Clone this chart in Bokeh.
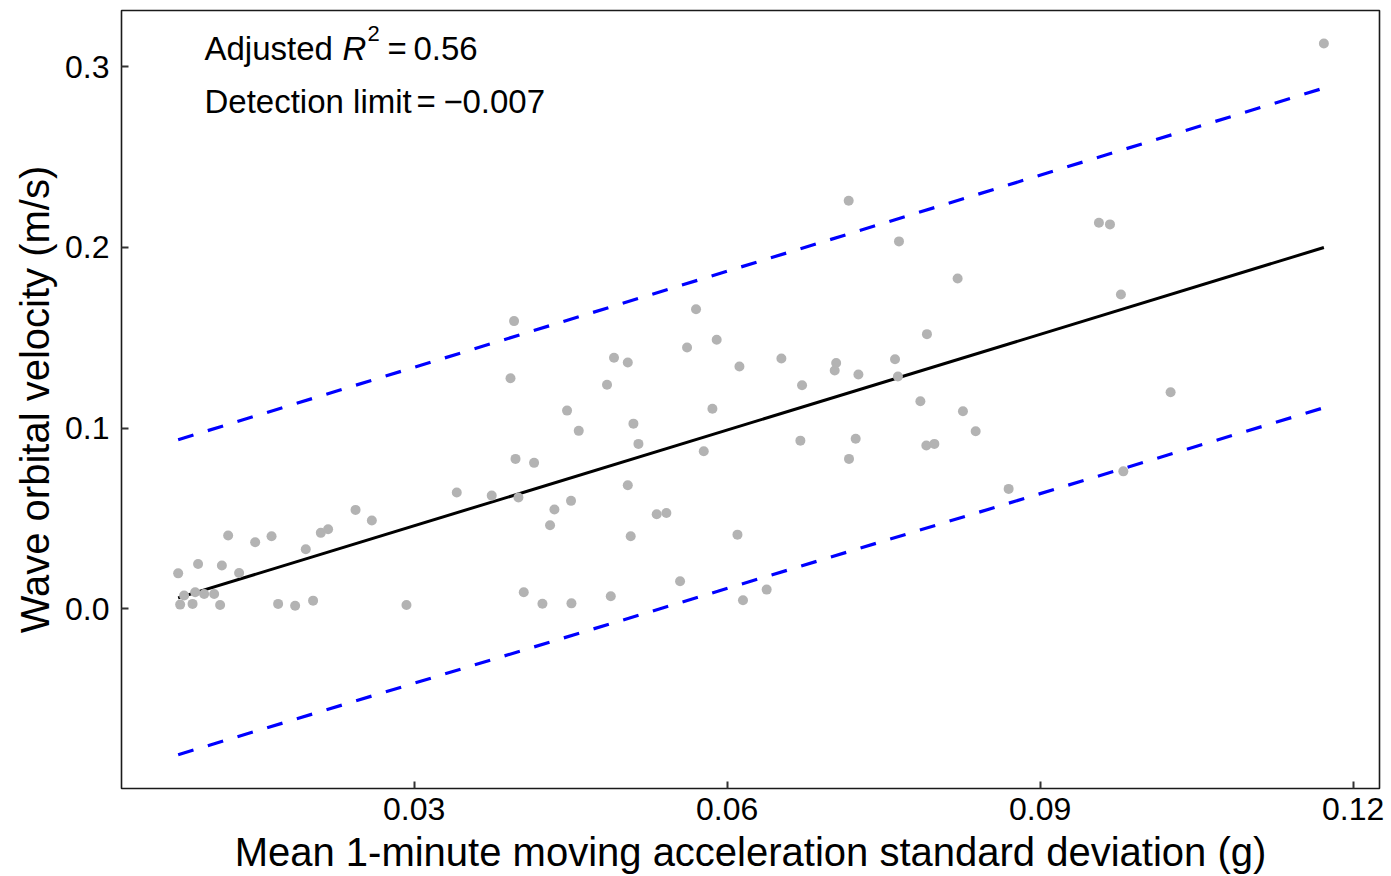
from bokeh.plotting import figure
from bokeh.models import Range1d, FixedTicker, Label, NumeralTickFormatter
from bokeh.embed import file_html
from bokeh.resources import INLINE

# ---- data ----
accel_sd = [0.00739, 0.00930, 0.01158, 0.01323, 0.00758, 0.00796, 0.00877, 0.00902,
            0.00988, 0.01084, 0.01141, 0.01218, 0.01477, 0.01634, 0.01697, 0.01860,
            0.01962, 0.02032, 0.02106, 0.02176, 0.02439, 0.02595, 0.02927, 0.03409,
            0.03744, 0.03924, 0.03958, 0.03972, 0.04000, 0.04051, 0.04150, 0.04230,
            0.04303, 0.04345, 0.04466, 0.04504, 0.04508, 0.04578, 0.04849, 0.04885,
            0.04916, 0.05048, 0.05048, 0.05076, 0.05102, 0.05150, 0.05325, 0.05418,
            0.05549, 0.05616, 0.05702, 0.05776, 0.05859, 0.05900, 0.06099, 0.06118,
            0.06152, 0.06379, 0.06520, 0.06702, 0.06718, 0.07031, 0.07045, 0.07165,
            0.07168, 0.07232, 0.07258, 0.07609, 0.07637, 0.07647, 0.07852, 0.07909,
            0.07915, 0.07986, 0.08209, 0.08260, 0.08382, 0.08698, 0.09563, 0.09669,
            0.09774, 0.09797, 0.10250, 0.11719]
wave_vel = [0.0197, 0.0249, 0.0240, 0.0199, 0.0024, 0.0074, 0.0028, 0.0092,
            0.0083, 0.0083, 0.0022, 0.0406, 0.0369, 0.0402, 0.0028, 0.0018,
            0.0330, 0.0046, 0.0421, 0.0441, 0.0548, 0.0489, 0.0022, 0.0644,
            0.0627, 0.1276, 0.1592, 0.0830, 0.0616, 0.0092, 0.0808, 0.0029,
            0.0463, 0.0550, 0.1097, 0.0598, 0.0031, 0.0985, 0.1240, 0.0070,
            0.1389, 0.1363, 0.0684, 0.0402, 0.1025, 0.0913, 0.0524, 0.0531,
            0.0153, 0.1446, 0.1658, 0.0872, 0.1107, 0.1489, 0.0411, 0.1341,
            0.0048, 0.0107, 0.1385, 0.0931, 0.1237, 0.1319, 0.1360, 0.2258,
            0.0830, 0.0941, 0.1297, 0.1381, 0.1286, 0.2033, 0.1149, 0.0904,
            0.1520, 0.0913, 0.1828, 0.1094, 0.0983, 0.0664, 0.2136, 0.2127,
            0.1739, 0.0761, 0.1199, 0.3127]

fit_x = [0.00739, 0.11719]
fit_y = [0.0061, 0.1999]
upper_y = [0.0936, 0.2881]
lower_y = [-0.0806, 0.1113]

x_ticks = [0.03, 0.06, 0.09, 0.12]
y_ticks = [0.0, 0.1, 0.2, 0.3]

r2_text = "0.56"
det_text = "0.007"

FONT = "Liberation Sans"

p = figure(width=1391, height=876, output_backend="svg", toolbar_location=None,
           x_range=Range1d(0.00196, 0.12252), y_range=Range1d(-0.0993, 0.331),
           min_border_left=121, min_border_right=12, min_border_top=10,
           min_border_bottom=88)
p.grid.visible = False
p.background_fill_color = "white"
p.border_fill_color = "white"
p.outline_line_color = "#1a1a1a"
p.outline_line_width = 1.6

for ax in (p.xaxis, p.yaxis):
    ax.axis_line_color = None
    ax.major_tick_in = 7
    ax.major_tick_out = 0
    ax.minor_tick_line_color = None
    ax.major_tick_line_color = "#333333"
    ax.major_tick_line_width = 2
    ax.major_label_text_font = FONT
    ax.major_label_text_font_size = "32px"
    ax.major_label_text_color = "black"
    ax.axis_label_text_font = FONT
    ax.axis_label_text_font_size = "40px"
    ax.axis_label_text_font_style = "normal"
    ax.axis_label_text_color = "black"

p.xaxis.ticker = FixedTicker(ticks=x_ticks)
p.yaxis.ticker = FixedTicker(ticks=y_ticks)
p.xaxis.formatter = NumeralTickFormatter(format="0.00")
p.yaxis.formatter = NumeralTickFormatter(format="0.0")
p.xaxis.axis_label = "Mean 1-minute moving acceleration standard deviation (g)"
p.yaxis.axis_label = "Wave orbital velocity (m/s)"
p.xaxis.major_label_standoff = 9
p.yaxis.major_label_standoff = 12
p.xaxis.axis_label_standoff = 7
p.yaxis.axis_label_standoff = 5

p.line(fit_x, upper_y, line_color="#0000FF", line_width=3.2, line_dash="16 15")
p.line(fit_x, lower_y, line_color="#0000FF", line_width=3.2, line_dash="16 15")
p.line(fit_x, fit_y, line_color="black", line_width=3)
p.scatter(accel_sd, wave_vel, size=10, fill_color="#b3b3b3", line_color=None)

def lab(x, y, text, size="33px", style="normal"):
    p.add_layout(Label(x=x, y=y, x_units="screen", y_units="screen", text=text,
                       text_font=FONT, text_font_size=size, text_font_style=style,
                       text_color="black", text_baseline="alphabetic",
                       text_align="left"))

# line 1: Adjusted R^2 = 0.56
lab(83, 740, "Adjusted")
lab(221, 740, "R", style="italic")
lab(246, 755, "2", size="22px")
lab(266, 740, "=")
lab(292, 740, r2_text)
# line 2: Detection limit = -0.007
lab(83, 687, "Detection limit")
lab(295, 687, "=")
lab(322, 687, "\u2212")
lab(341, 687, det_text)

open("out.html", "w").write(file_html(p, INLINE))
